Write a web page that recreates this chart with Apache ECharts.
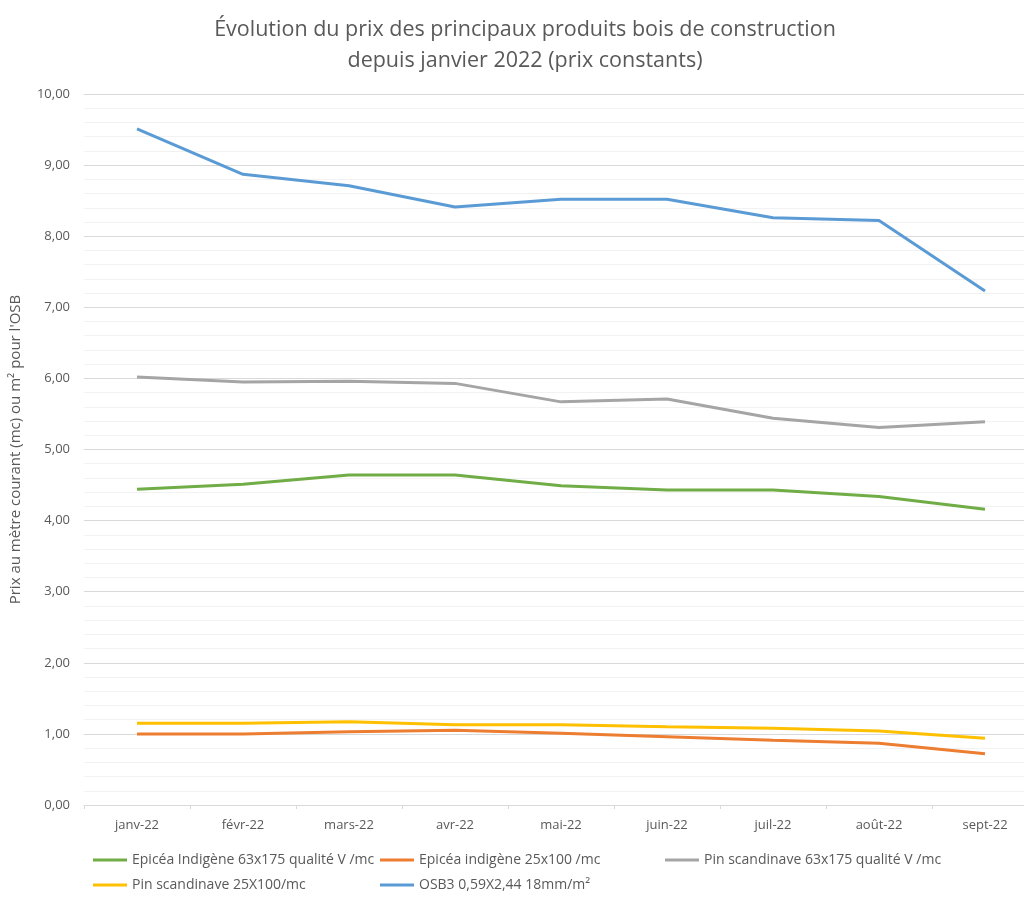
<!DOCTYPE html>
<html>
<head>
<meta charset="utf-8">
<script src="https://cdn.jsdelivr.net/npm/echarts@6/dist/echarts.min.js"></script>
<style>html,body{margin:0;padding:0;background:#fff;overflow:hidden;width:1024px;height:900px}#c{width:1045px;height:900px}</style>
</head>
<body>
<div id="c"></div>
<script>
const categories = ['janv-22','févr-22','mars-22','avr-22','mai-22','juin-22','juil-22','août-22','sept-22'];
const seriesNames = [
  'Epicéa Indigène 63x175 qualité V /mc',
  'Epicéa indigène 25x100 /mc',
  'Pin scandinave 63x175 qualité V /mc',
  'Pin scandinave 25X100/mc',
  'OSB3 0,59X2,44 18mm/m²'
];
const epiceaIndigene63 = [4.44, 4.51, 4.64, 4.64, 4.49, 4.43, 4.43, 4.34, 4.16];
const epiceaIndigene25 = [1.00, 1.00, 1.03, 1.05, 1.01, 0.96, 0.91, 0.87, 0.72];
const pinScandinave63 = [6.02, 5.95, 5.96, 5.93, 5.67, 5.71, 5.44, 5.31, 5.39];
const pinScandinave25 = [1.15, 1.15, 1.17, 1.13, 1.13, 1.10, 1.08, 1.04, 0.94];
const osb3 = [9.51, 8.87, 8.71, 8.41, 8.52, 8.52, 8.26, 8.22, 7.23];
const yTicks = [0,1,2,3,4,5,6,7,8,9,10];

const colors = ['#70AD47','#ED7D31','#A5A5A5','#FFC000','#5B9BD5'];
const values = [epiceaIndigene63, epiceaIndigene25, pinScandinave63, pinScandinave25, osb3];
const FONT = '"Open Sans", "Noto Sans", sans-serif';
const chart = echarts.init(document.getElementById('c'));

const legendBase = {
  orient: 'vertical', top: 853, itemWidth: 34, itemHeight: 3, icon: 'rect',
  itemGap: 11, padding: 0, textStyle: {color: '#595959', fontSize: 14, fontFamily: FONT}
};

chart.setOption({
  animation: false,
  backgroundColor: '#fff',
  color: colors,
  title: {
    text: 'Évolution du prix des principaux produits bois de construction\ndepuis janvier 2022 (prix constants)',
    left: 520, textAlign: 'center', top: 9,
    textStyle: {color: '#595959', fontSize: 21.5, fontWeight: 'normal', fontFamily: FONT, lineHeight: 31}
  },
  legend: [
    Object.assign({}, legendBase, {left: 93, data: [seriesNames[0], seriesNames[3]]}),
    Object.assign({}, legendBase, {left: 380, data: [seriesNames[1], seriesNames[4]]}),
    Object.assign({}, legendBase, {left: 665, data: [seriesNames[2]]})
  ],
  grid: {left: 83, top: 94, width: 955, height: 711, containLabel: false},
  xAxis: {
    type: 'category', data: categories, boundaryGap: true,
    axisLine: {lineStyle: {color: '#d9d9d9'}},
    axisTick: {show: true, length: 4, lineStyle: {color: '#d9d9d9'}},
    axisLabel: {color: '#595959', fontSize: 13, fontFamily: FONT, margin: 14}
  },
  yAxis: {
    type: 'value', min: 0, max: 10, interval: 1,
    name: 'Prix au mètre courant (mc) ou m² pour l\'OSB',
    nameLocation: 'middle', nameGap: 61, nameRotate: 90,
    nameTextStyle: {color: '#595959', fontSize: 15, fontFamily: FONT},
    axisLine: {show: false}, axisTick: {show: false},
    axisLabel: {color: '#595959', fontSize: 13, fontFamily: FONT, margin: 14,
      formatter: v => yTicks.includes(v) ? v.toFixed(2).replace('.', ',') : ''},
    splitLine: {lineStyle: {color: '#d9d9d9', width: 1}},
    minorTick: {show: false, splitNumber: 5},
    minorSplitLine: {show: true, lineStyle: {color: '#f2f2f2', width: 1}}
  },
  series: values.map((d, i) => ({
    name: seriesNames[i], type: 'line', data: d, showSymbol: false, symbol: 'none',
    lineStyle: {width: 3, color: colors[i]}, itemStyle: {color: colors[i]}
  }))
});
</script>
</body>
</html>
